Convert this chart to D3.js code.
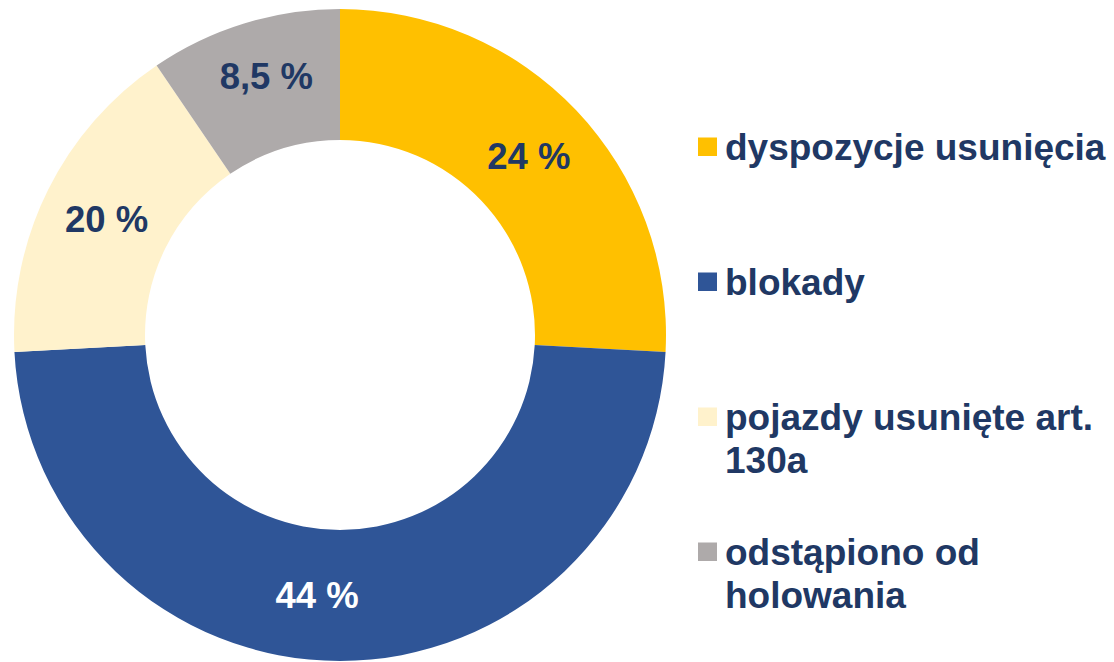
<!DOCTYPE html>
<html>
<head>
<meta charset="utf-8">
<script src="https://cdn.jsdelivr.net/npm/d3@7"></script>
<style>
  body { margin: 0; background: #fff; }
  svg { display: block; }
</style>
</head>
<body>
<svg id="chart"></svg>
<script>
// slice shares, with the labels as printed
var categories = ['dyspozycje usunięcia', 'blokady', 'pojazdy usunięte art. 130a', 'odstąpiono od holowania'];
var legendLines = [['dyspozycje usunięcia'], ['blokady'], ['pojazdy usunięte art.', '130a'], ['odstąpiono od', 'holowania']];
var values = [25.8, 48.3, 16.3, 9.5];
var valueLabels = ['24 %', '44 %', '20 %', '8,5 %'];

var colors = ['#FFC000', '#2F5597', '#FFF2CC', '#AEAAAA'];
var labelColors = ['#203864', '#ffffff', '#203864', '#203864'];
var textColor = '#203864';
var font = '"Liberation Sans", Arial, sans-serif';

var width = 1114, height = 662;
var cx = 340, cy = 335;
var outerR = 326, innerR = 195;

var svg = d3.select('#chart')
    .attr('width', width)
    .attr('height', height);

var pie = d3.pie().sort(null).value(function (d) { return d; });
var arc = d3.arc().innerRadius(innerR).outerRadius(outerR);
var arcs = pie(values);

var ring = svg.append('g')
    .attr('transform', 'translate(' + cx + ',' + cy + ')');

ring.selectAll('path')
    .data(arcs)
    .enter().append('path')
    .attr('d', arc)
    .attr('fill', function (d, i) { return colors[i]; });

// small manual nudges, the original labels are not all on the centroid
var nudge = { 1: [-23, -1], 3: [3, -10] };

ring.selectAll('text')
    .data(arcs)
    .enter().append('text')
    .attr('x', function (d, i) { return arc.centroid(d)[0] + (nudge[i] ? nudge[i][0] : 0); })
    .attr('y', function (d, i) { return arc.centroid(d)[1] + (nudge[i] ? nudge[i][1] : 0); })
    .attr('dy', '0.36em')
    .attr('text-anchor', 'middle')
    .attr('font-family', font)
    .attr('font-weight', 'bold')
    .attr('font-size', 36.5)
    .attr('fill', function (d, i) { return labelColors[i]; })
    .text(function (d, i) { return valueLabels[i]; });

// legend
var legendX = 698, legendTop = 137.5, legendStep = 135;

var legend = svg.append('g').attr('class', 'legend');

var items = legend.selectAll('g')
    .data(categories)
    .enter().append('g')
    .attr('transform', function (d, i) { return 'translate(' + legendX + ',' + (legendTop + i * legendStep) + ')'; });

items.append('rect')
    .attr('width', 19)
    .attr('height', 18.5)
    .attr('fill', function (d, i) { return colors[i]; });

items.append('text')
    .attr('font-family', font)
    .attr('font-weight', 'bold')
    .attr('font-size', 37)
    .attr('fill', textColor)
    .each(function (d, i) {
        var t = d3.select(this);
        legendLines[i].forEach(function (line, j) {
            t.append('tspan')
                .attr('x', 27)
                .attr('y', 22 + j * 43)
                .text(line);
        });
    });
</script>
</body>
</html>
